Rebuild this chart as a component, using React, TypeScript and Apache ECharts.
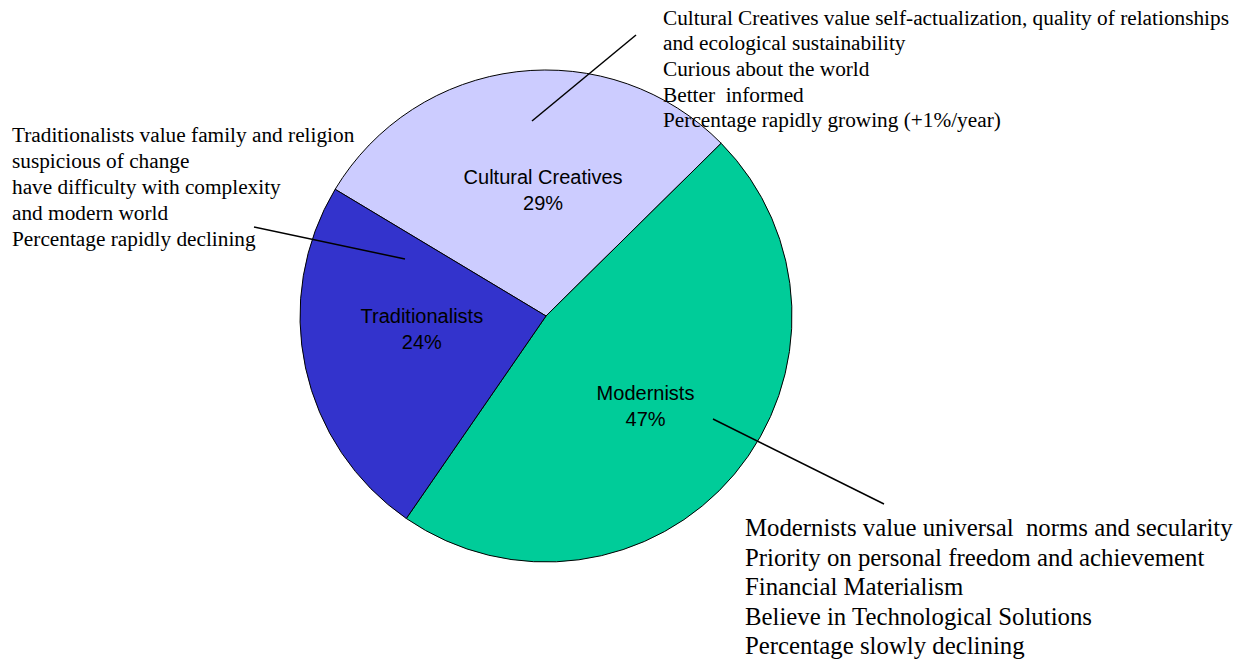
import React, { useEffect, useRef } from "react";
import * as echarts from "echarts";

const categories = ["Cultural Creatives", "Modernists", "Traditionalists"];
const shares = [29, 47, 24];
const sliceColors = ["#CCCCFF", "#00CC99", "#3333CC"];
const labelOffsets = [[12, -1], [3, 9], [-1, -14]];

const ccNotes = [
  "Cultural Creatives value self-actualization, quality of relationships",
  "and ecological sustainability",
  "Curious about the world",
  "Better  informed",
  "Percentage rapidly growing (+1%/year)",
];
const tradNotes = [
  "Traditionalists value family and religion",
  "suspicious of change",
  "have difficulty with complexity",
  "and modern world",
  "Percentage rapidly declining",
];
const modNotes = [
  "Modernists value universal  norms and secularity",
  "Priority on personal freedom and achievement",
  "Financial Materialism",
  "Believe in Technological Solutions",
  "Percentage slowly declining",
];

export default function App() {
  const ref = useRef<HTMLDivElement>(null);
  useEffect(() => {
    document.body.style.margin = "0";
    const chart = echarts.init(ref.current!, null, { renderer: "svg" });
    const serif = "'Liberation Serif', 'Times New Roman', serif";
    const lineStyle = { stroke: "#000", lineWidth: 1.5 };
    chart.setOption({
      animation: false,
      backgroundColor: "#fff",
      series: [
        {
          type: "pie",
          center: [546, 316],
          radius: 246,
          startAngle: 149,
          clockwise: true,
          avoidLabelOverlap: false,
          emphasis: { disabled: true },
          itemStyle: { borderColor: "#000", borderWidth: 1 },
          label: {
            show: true,
            position: "inside",
            formatter: "{b}\n{c}%",
            color: "#000",
            fontFamily: "'Liberation Sans', Arial, sans-serif",
            fontSize: 20,
            lineHeight: 26,
            align: "center",
          },
          labelLine: { show: false },
          data: categories.map((name, i) => ({
            name,
            value: shares[i],
            itemStyle: { color: sliceColors[i] },
            label: { offset: labelOffsets[i] },
          })),
        },
      ],
      graphic: [
        {
          type: "text",
          left: 663,
          top: 5,
          z: 100,
          style: { text: ccNotes.join("\n"), font: `21.3px ${serif}`, fill: "#000", lineHeight: 25.6 },
        },
        {
          type: "text",
          left: 12,
          top: 122,
          z: 100,
          style: { text: tradNotes.join("\n"), font: `21.3px ${serif}`, fill: "#000", lineHeight: 25.9 },
        },
        {
          type: "text",
          left: 745,
          top: 513,
          z: 100,
          style: { text: modNotes.join("\n"), font: `24.8px ${serif}`, fill: "#000", lineHeight: 29.5 },
        },
        { type: "line", z: 100, shape: { x1: 636, y1: 35, x2: 532, y2: 121 }, style: lineStyle },
        { type: "line", z: 100, shape: { x1: 254, y1: 227, x2: 405, y2: 259 }, style: lineStyle },
        { type: "line", z: 100, shape: { x1: 713, y1: 419, x2: 884, y2: 504 }, style: lineStyle },
      ],
    });
    return () => chart.dispose();
  }, []);
  return <div ref={ref} style={{ width: 1238, height: 662 }} />;
}
